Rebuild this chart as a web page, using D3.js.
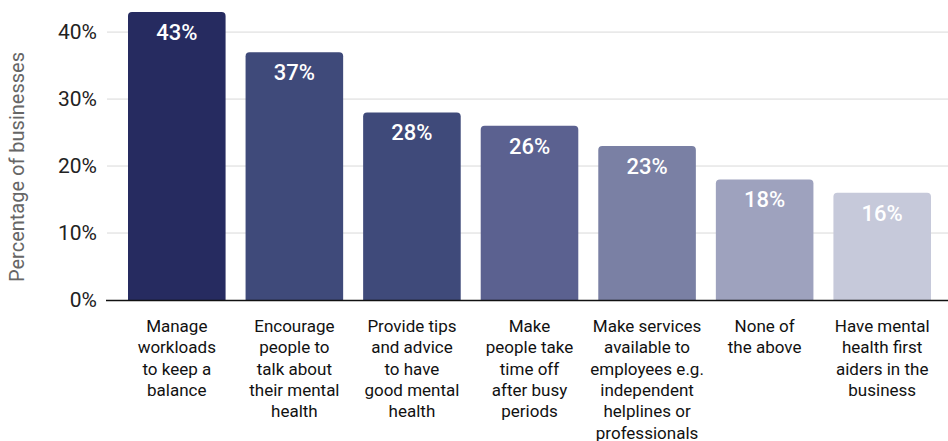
<!DOCTYPE html>
<html>
<head>
<meta charset="utf-8">
<script src="https://cdn.jsdelivr.net/npm/d3@7/dist/d3.min.js"></script>
<style>
  html, body { margin: 0; padding: 0; background: #fff; }
  svg { display: block; font-family: Roboto, "Noto Sans", sans-serif; }
</style>
</head>
<body>
<svg id="chart" width="948" height="441"></svg>
<script>
// Workplace mental-health measures, share of businesses (%)
const categories = [
  ["Manage", "workloads", "to keep a", "balance"],
  ["Encourage", "people to", "talk about", "their mental", "health"],
  ["Provide tips", "and advice", "to have", "good mental", "health"],
  ["Make", "people take", "time off", "after busy", "periods"],
  ["Make services", "available to", "employees e.g.", "independent", "helplines or", "professionals"],
  ["None of", "the above"],
  ["Have mental", "health first", "aiders in the", "business"]
];
const values = [43, 37, 28, 26, 23, 18, 16];
const barColors = ["#262b60", "#3f4a7a", "#3f4a7a", "#5b6190", "#7a80a4", "#9ea2be", "#c6c9da"];
const yTicks = [0, 10, 20, 30, 40];
const yTitle = "Percentage of businesses";

(function () {
  const svg = d3.select("#chart");
  const mLeft = 107, mRight = 948, mTop = 12, mBottom = 300;

  const x = d3.scaleBand()
    .domain(d3.range(values.length))
    .range([128, 931])
    .paddingInner(0.17)
    .paddingOuter(0);

  const y = d3.scaleLinear().domain([0, 43]).range([mBottom, mTop]);

  // gridlines
  svg.append("g")
    .selectAll("line")
    .data(yTicks.filter(d => d > 0))
    .join("line")
    .attr("x1", mLeft).attr("x2", mRight)
    .attr("y1", d => y(d)).attr("y2", d => y(d))
    .attr("stroke", "#d9d9d9").attr("stroke-width", 1);

  // y axis labels
  const yAxis = d3.axisLeft(y).tickValues(yTicks).tickFormat(d => d + "%").tickSize(0).tickPadding(10);
  const gy = svg.append("g").attr("transform", `translate(${mLeft},0)`).call(yAxis);
  gy.select(".domain").remove();
  gy.selectAll("text").attr("font-size", 21).attr("fill", "#222").attr("font-family", "Roboto, sans-serif");

  // y title
  svg.append("text")
    .attr("transform", `translate(24,${(mTop + mBottom) / 2 + 11}) rotate(-90)`)
    .attr("text-anchor", "middle")
    .attr("font-size", 20)
    .attr("fill", "#666")
    .text(yTitle);

  // bars with rounded top corners
  const r = 4;
  function barPath(i) {
    const x0 = x(i), w = x.bandwidth(), y0 = y(values[i]), yb = y(0);
    return `M${x0},${yb}V${y0 + r}Q${x0},${y0} ${x0 + r},${y0}H${x0 + w - r}Q${x0 + w},${y0} ${x0 + w},${y0 + r}V${yb}Z`;
  }
  svg.append("g")
    .selectAll("path")
    .data(values)
    .join("path")
    .attr("d", (d, i) => barPath(i))
    .attr("fill", (d, i) => barColors[i]);

  // value labels
  svg.append("g")
    .selectAll("text")
    .data(values)
    .join("text")
    .attr("x", (d, i) => x(i) + x.bandwidth() / 2)
    .attr("y", d => y(d) + 28)
    .attr("text-anchor", "middle")
    .attr("font-size", 22)
    .attr("font-weight", 500)
    .attr("fill", "#fff")
    .text(d => d + "%");

  // baseline
  svg.append("line")
    .attr("x1", mLeft - 1).attr("x2", mRight)
    .attr("y1", mBottom + 0.5).attr("y2", mBottom + 0.5)
    .attr("stroke", "#111").attr("stroke-width", 1.5);

  // category labels
  const cat = svg.append("g")
    .selectAll("text")
    .data(categories)
    .join("text")
    .attr("text-anchor", "middle")
    .attr("font-size", 17)
    .attr("fill", "#111");
  cat.each(function (lines, i) {
    d3.select(this).selectAll("tspan")
      .data(lines)
      .join("tspan")
      .attr("x", x(i) + x.bandwidth() / 2)
      .attr("y", (l, j) => 332 + j * 21.3)
      .text(l => l);
  });
})();
</script>
</body>
</html>
